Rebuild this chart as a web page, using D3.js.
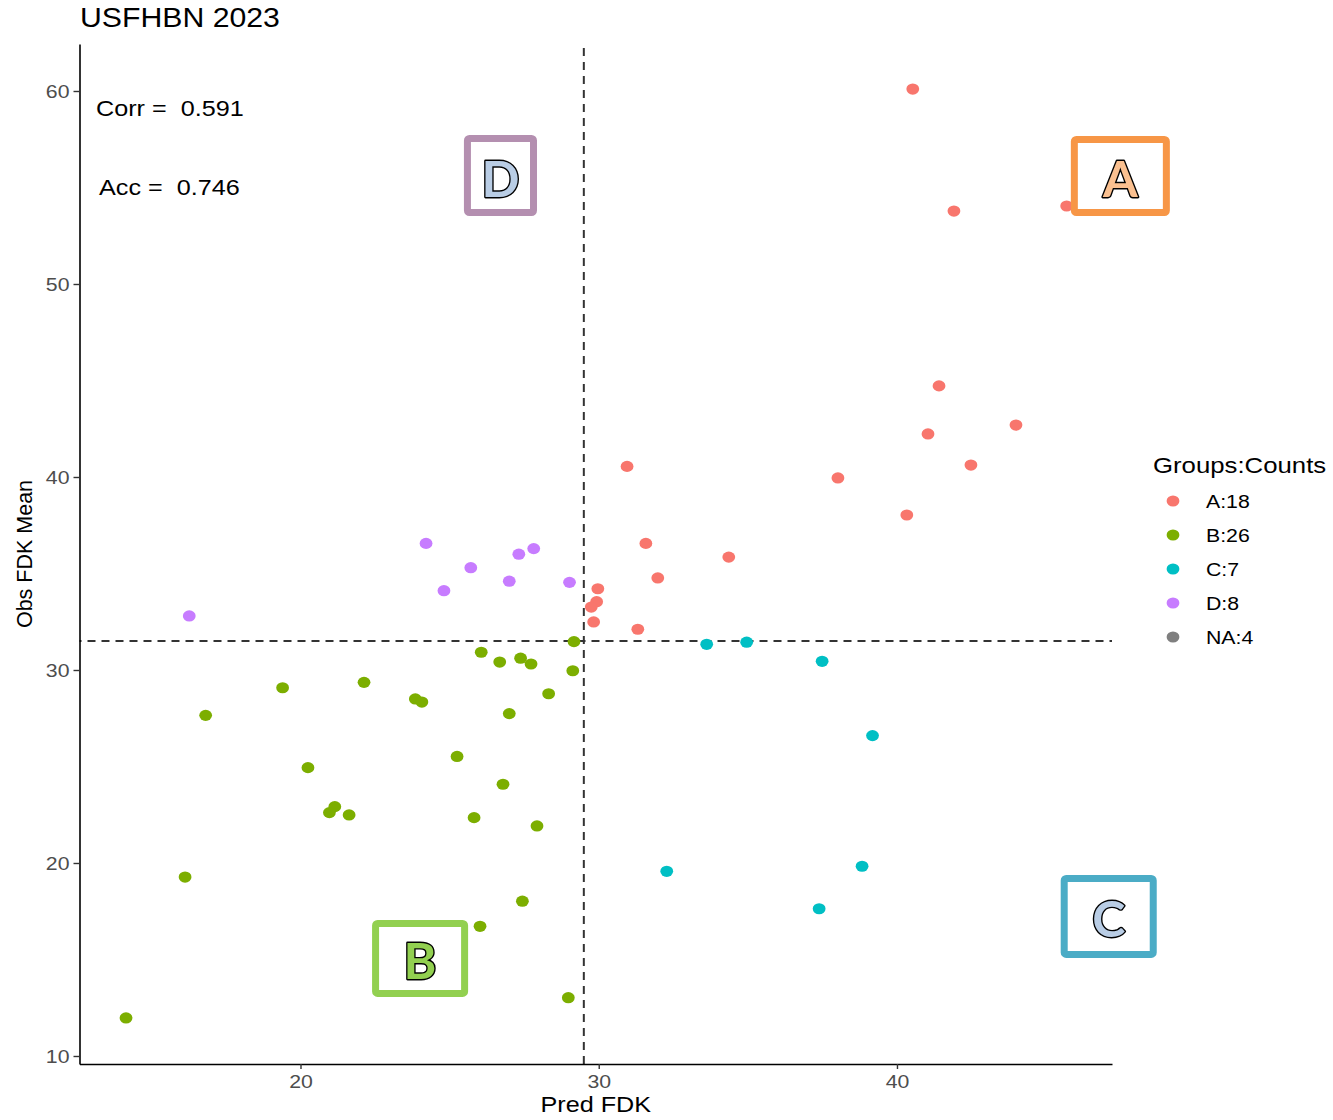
<!DOCTYPE html>
<html>
<head>
<meta charset="utf-8">
<script src="https://cdn.jsdelivr.net/npm/d3@7"></script>
<style>
  body { margin: 0; background: #fff; }
  text { font-family: "Liberation Sans", Arial, sans-serif; }
</style>
</head>
<body>
<div id="chart"></div>
<script>
// groups and their colours (ggplot hue palette)
const groups = ["A", "B", "C", "D", "NA"];
const groupCounts = [18, 26, 7, 8, 4];
const groupColors = ["#F8766D", "#7CAE00", "#00BFC4", "#C77CFF", "#7F7F7F"];

// Pred FDK (x) / Obs FDK Mean (y)
const predA = [40.53, 41.91, 45.69, 41.41, 41.04, 43.99, 42.48, 38.02, 40.33, 30.95, 31.58, 34.36, 31.98, 29.97, 29.93, 29.75, 29.83, 31.31];
const obsA  = [60.10, 53.78, 54.04, 44.72, 42.23, 42.69, 40.62, 39.95, 38.03, 40.55, 36.56, 35.85, 34.77, 34.21, 33.54, 33.26, 32.49, 32.11];

const predB = [29.17, 26.06, 26.68, 27.38, 27.73, 29.13, 28.32, 23.85, 24.07, 16.82, 19.40, 22.13, 25.25, 20.25, 21.15, 20.97, 21.63, 27.00, 26.79, 25.82, 27.93, 27.44, 26.02, 28.98, 16.13, 14.15];
const obsB  = [31.47, 30.92, 30.41, 30.61, 30.31, 29.96, 28.77, 28.50, 28.34, 27.65, 29.08, 29.36, 25.52, 24.94, 22.92, 22.61, 22.49, 27.74, 24.08, 22.35, 21.92, 18.02, 16.72, 13.02, 19.27, 11.97];

const predC = [33.62, 34.96, 37.49, 39.18, 32.28, 38.83, 37.39];
const obsC  = [31.33, 31.44, 30.45, 26.60, 19.57, 19.83, 17.63];

const predD = [16.27, 24.21, 24.81, 25.71, 27.32, 27.82, 27.00, 29.02];
const obsD  = [32.80, 36.56, 34.11, 35.30, 36.00, 36.29, 34.60, 34.54];

// cut-offs for the quadrants
const cutX = 29.5;
const cutY = 31.5;

// panel limits
const xDomain = [12.59, 47.21];
const yDomain = [9.585, 62.435];
const xTicks = [20, 30, 40];
const yTicks = [10, 20, 30, 40, 50, 60];

const corrValue = "0.591";
const accValue = "0.746";

// build one table for the points
const points = [];
[[predA, obsA, "A"], [predB, obsB, "B"], [predC, obsC, "C"], [predD, obsD, "D"]].forEach(function(s) {
  s[0].forEach(function(v, i) { points.push({ x: v, y: s[1][i], g: s[2] }); });
});

const W = 1333, H = 1120;
const margin = {top: 44, right: 221, bottom: 56, left: 79.5};
const width = W - margin.left - margin.right,
    height = H - margin.top - margin.bottom;
const sx = 1.12; // the picture is a little wider than tall

const svg = d3.select("#chart")
  .append("svg")
    .attr("width", W)
    .attr("height", H);

const g = svg.append("g")
    .attr("transform", `translate(${margin.left},${margin.top})`);

const x = d3.scaleLinear()
  .domain(xDomain)
  .range([0, width]);
const y = d3.scaleLinear()
  .domain(yDomain)
  .range([height, 0]);

const color = d3.scaleOrdinal().domain(groups).range(groupColors);

// dashed cut-off lines
g.append("line")
  .attr("x1", x(cutX)).attr("x2", x(cutX))
  .attr("y1", 0).attr("y2", height)
  .attr("stroke", "#333").attr("stroke-width", 2)
  .attr("stroke-dasharray", "8,6")
  .attr("stroke-dashoffset", -4);
g.append("line")
  .attr("x1", 0).attr("x2", width)
  .attr("y1", y(cutY)).attr("y2", y(cutY))
  .attr("stroke", "#333").attr("stroke-width", 2)
  .attr("stroke-dasharray", "8,6")
  .attr("stroke-dashoffset", -8);

// points
g.selectAll("ellipse.pt")
  .data(points)
  .enter()
  .append("ellipse")
    .attr("class", "pt")
    .attr("cx", d => x(d.x))
    .attr("cy", d => y(d.y))
    .attr("rx", 6.4)
    .attr("ry", 5.6)
    .attr("fill", d => color(d.g));

// quadrant boxes (drawn as annotation, data coords)
const boxes = [
  {label: "D", x0: 25.48, x1: 27.93, y0: 53.52, y1: 57.72, stroke: "#B48FB0", fill: "#B9CDE5"},
  {label: "A", x0: 45.83, x1: 49.15, y0: 53.52, y1: 57.67, stroke: "#F79646", fill: "#FAC090"},
  {label: "C", x0: 45.49, x1: 48.71, y0: 15.08, y1: 19.38, stroke: "#4BACC6", fill: "#B9CDE5"},
  {label: "B", x0: 22.40, x1: 25.62, y0: 13.06, y1: 17.05, stroke: "#92D050", fill: "#92D050"}
];
const bw = 7;
boxes.forEach(function(b) {
  g.append("rect")
    .attr("x", x(b.x0) + bw / 2)
    .attr("y", y(b.y1) + bw / 2)
    .attr("width", x(b.x1) - x(b.x0) - bw)
    .attr("height", y(b.y0) - y(b.y1) - bw)
    .attr("rx", 2)
    .attr("fill", "#fff")
    .attr("stroke", b.stroke)
    .attr("stroke-width", bw);
  g.append("text")
    .attr("x", (x(b.x0) + x(b.x1)) / 2)
    .attr("y", (y(b.y0) + y(b.y1)) / 2 + 21)
    .attr("text-anchor", "middle")
    .style("font-family", "Lato, 'Open Sans', sans-serif")
    .style("font-weight", 700)
    .style("font-size", "50px")
    .attr("fill", b.fill)
    .attr("stroke", "#000")
    .attr("stroke-width", 2.8)
    .attr("stroke-linejoin", "round")
    .style("paint-order", "stroke")
    .text(b.label);
});

// axes
const xAxis = g.append("g")
  .attr("transform", `translate(0,${height})`)
  .call(d3.axisBottom(x).tickValues(xTicks).tickSize(5).tickSizeOuter(0).tickPadding(5));
const yAxis = g.append("g")
  .call(d3.axisLeft(y).tickValues(yTicks).tickSize(6).tickSizeOuter(0).tickPadding(5));

[xAxis, yAxis].forEach(function(a) {
  a.select(".domain").attr("stroke", "#000").attr("stroke-width", 1.6);
  a.selectAll(".tick line").attr("stroke", "#333").attr("stroke-width", 1.4);
  a.selectAll(".tick text")
    .style("font-family", "'Liberation Sans', Arial, sans-serif")
    .style("font-size", "19px")
    .attr("fill", "#4d4d4d");
});
xAxis.selectAll(".tick text").attr("dy", "0.75em").attr("transform", `scale(${sx},1)`);
yAxis.selectAll(".tick text").attr("x", -10 / sx).attr("transform", `scale(${sx},1)`);

// stretched text helper
function stext(px, py, str, size, anchor) {
  return svg.append("text")
    .attr("transform", `translate(${px},${py}) scale(${sx},1)`)
    .attr("text-anchor", anchor || "start")
    .style("font-size", size + "px")
    .attr("fill", "#000")
    .text(str);
}

// title and labels
stext(80, 27, "USFHBN 2023", 27);
stext(margin.left + width / 2, 1112, "Pred FDK", 22.5, "middle");
svg.append("text")
  .attr("transform", `translate(32,${margin.top + height / 2}) rotate(-90)`)
  .attr("text-anchor", "middle")
  .style("font-size", "21.5px")
  .text("Obs FDK Mean");

stext(96, 116, "Corr =  " + corrValue, 22.5).style("white-space", "pre");
stext(99, 195, "Acc =  " + accValue, 22.5).style("white-space", "pre");

// legend
stext(1153, 473, "Groups:Counts", 23);
groups.forEach(function(gr, i) {
  const ly = 501 + i * 34;
  svg.append("ellipse")
    .attr("cx", 1173).attr("cy", ly)
    .attr("rx", 6.4).attr("ry", 5.6)
    .attr("fill", groupColors[i]);
  stext(1206, ly + 7, gr + ":" + groupCounts[i], 19);
});
</script>
</body>
</html>
